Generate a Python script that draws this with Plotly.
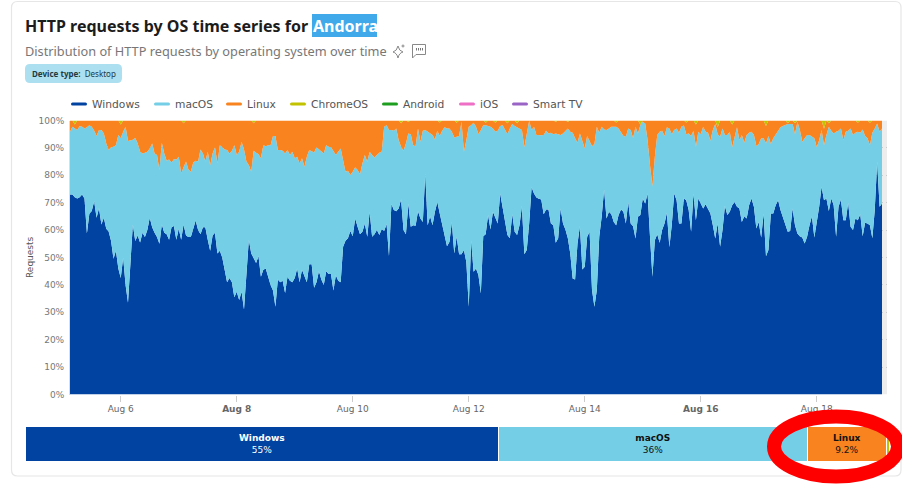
"""
HTTP requests by OS for Andorra, 100% stacked hourly areas plus share bar
"""
import pandas as pd
import plotly.graph_objects as go
from plotly.subplots import make_subplots

# ── Data ──────────────────────────────────────────────────
hours = pd.date_range("2025-08-05 03:00", periods=337, freq="1h")

windows = [
    73, 73, 72, 71.5, 72, 73, 71.5, 58.8, 66, 67,
    70.5, 64.5, 68, 62, 64.5, 60.5, 59.5, 56, 49.5, 52.5,
    46, 42.5, 50, 40, 33.5, 46, 62, 56, 58, 55.5,
    59, 57.5, 60, 64.5, 61, 59, 57.5, 55, 62, 59,
    58.5, 56.5, 61, 61.5, 56.5, 60.5, 56.5, 62, 58, 57.5,
    57.5, 60.5, 63.5, 60, 58.5, 61, 61, 56.5, 52.5, 58,
    59, 51.5, 52.5, 50, 46, 41, 42.5, 41, 35.5, 37.5,
    34.5, 37.5, 31, 43, 56.5, 51.5, 50, 48, 50.5, 43,
    45.5, 46, 43, 40, 38, 32, 42, 41, 41.5, 37,
    43, 41.5, 41, 42.5, 46, 41, 45.5, 43.5, 41, 47.5,
    47.5, 39, 41, 45, 42, 40, 45, 44, 44, 38,
    43.5, 41.5, 41, 53.9, 56.1, 57, 59.7, 57.8, 64.2, 61.2,
    58.5, 59.4, 62.4, 57.6, 66.7, 57.6, 58.5, 60, 58.2, 60.4,
    59.7, 62.2, 50.5, 69.5, 67.3, 66.9, 67.9, 71.2, 60, 58.5,
    69.5, 61.2, 61.8, 61.6, 66.9, 64.2, 63, 80.7, 61.8, 65.1,
    61.8, 66.7, 70.3, 66.1, 61.8, 58.8, 54.1, 55.7, 63, 51.5,
    57.6, 51.2, 51.2, 52.7, 48.4, 32, 56.3, 44.8, 46, 43.6,
    36.9, 57.8, 58.5, 65.5, 60.2, 66.7, 64.2, 62.4, 73.4, 68.5,
    62.4, 58.2, 57, 65.8, 59.4, 58.2, 61.8, 68.8, 51.2, 52.7,
    62.4, 75.6, 73.4, 71.9, 71.4, 71.2, 65.8, 67.5, 67.5, 62.4,
    61.8, 55.4, 57, 67.9, 62.4, 60.2, 57, 51.5, 42.3, 42,
    55.1, 61.4, 45.6, 46.6, 57.6, 59.4, 38.1, 32, 38.1, 57.6,
    64.9, 74.8, 64.2, 66.7, 65.8, 63, 61.8, 65.5, 67.5, 66.7,
    62.4, 70.3, 62.4, 61.4, 56.9, 64.9, 65.5, 71.5, 69.7, 73.4,
    57.6, 43, 56.3, 58.5, 55.4, 60, 62.4, 66.3, 53.7, 61.8,
    73.4, 70.9, 62.4, 62.4, 71.5, 70.9, 67.3, 59.4, 73.4, 63.6,
    71.5, 69.7, 67.9, 69.4, 67.9, 66.1, 61.8, 56.9, 62.4, 53.9,
    60, 68.8, 65.5, 66.7, 69.1, 70.3, 68.5, 67.9, 63, 65.1,
    64.2, 69.1, 71.5, 68.5, 60.6, 63, 57.3, 66.1, 50.5, 52.7,
    66.1, 66.1, 69.1, 70.9, 67.3, 64.9, 61.8, 59.4, 59.7, 67.9,
    61.8, 58.8, 57.8, 57.3, 55.1, 57.6, 61.8, 65.1, 57.3, 62.4,
    68.5, 75.8, 70.9, 71.5, 67, 71.5, 69.1, 57.6, 68.5, 71.2,
    63.6, 63.6, 70, 61.2, 60, 64.2, 63.6, 65.8, 57.8, 62.7,
    62.4, 61.8, 57, 67.3, 84.9, 68.5, 69.7,
]
macos = [
    22.9, 24.7, 25.1, 25, 26, 24.7, 25.6, 38.7, 32.3, 30.7,
    25.8, 29.8, 28.5, 34.5, 30.8, 31.1, 29.7, 34.2, 40.9, 38.5,
    48.7, 51, 45.9, 57.7, 59, 46.8, 31, 37.6, 33.6, 33.1,
    29, 30.7, 28.6, 25.3, 30.6, 29, 29.9, 26.9, 29.9, 29,
    26.8, 29.3, 23.7, 24.4, 29.3, 26.3, 24.2, 20.9, 27, 24.6,
    23.8, 24.2, 21.8, 25, 30.9, 27, 24, 32.1, 31.2, 30,
    31.2, 32.8, 38.5, 40.2, 43.4, 48.2, 45.5, 48, 55.5, 49.9,
    54.1, 54.7, 58.4, 42, 27.2, 29.8, 39, 40.2, 37.2, 43.2,
    45.5, 44.6, 48, 51, 56.3, 62.3, 47.2, 48.2, 47.5, 51,
    46.2, 45.9, 47.6, 43.7, 40.8, 43.3, 40.7, 39.6, 45.8, 41.7,
    41.1, 49.3, 49.2, 44.4, 46.6, 48, 46, 46.4, 46.2, 50.6,
    43.9, 47.1, 48.8, 31.6, 25.2, 24.7, 20.4, 23.5, 18.7, 20.7,
    21.9, 24.9, 25, 27.3, 21.9, 29.8, 28, 27.4, 30, 28.2,
    38, 36.1, 46, 27, 29, 30.2, 24.9, 19.2, 29, 33.1,
    25.8, 33.8, 29.2, 29, 30.2, 28, 33.3, 15.8, 34.1, 30.4,
    32.9, 26.4, 26, 28.2, 34.5, 38.7, 43, 41.4, 32.9, 42.3,
    36.5, 43.1, 48.3, 35.9, 44.4, 65.7, 42, 54.4, 51.7, 51.4,
    59.6, 40.5, 39.8, 32.5, 37.5, 30.4, 31.7, 33.9, 24.6, 29.8,
    34.1, 36.8, 40.1, 32.9, 38.6, 39.3, 35.3, 27.7, 39, 42.6,
    37.5, 20.9, 24.3, 22.8, 23.2, 23.4, 28.9, 28.8, 27.8, 33.1,
    33.2, 39.9, 38, 26.8, 32.9, 36.1, 40.1, 44.4, 53.2, 51.5,
    36.8, 33.9, 46.6, 43.2, 36.7, 32.8, 52.5, 59.4, 59.6, 37.9,
    32.8, 21.9, 32.3, 30.4, 31.9, 34.7, 35.9, 31.6, 28.4, 27.6,
    31.7, 26.8, 34.1, 32.1, 40.8, 30.4, 32.8, 28, 29.2, 19.4,
    26.1, 33, 30.5, 36.2, 40.5, 36.3, 31.9, 31.2, 43.4, 33.2,
    23.1, 26.2, 33.1, 35.3, 26.8, 24.1, 28, 34.9, 22.9, 26.8,
    24.4, 25.3, 29.8, 26.5, 27.6, 26.5, 34.7, 41.8, 32.6, 40.2,
    37.1, 25.9, 29.2, 29.2, 21.1, 24, 29, 24.9, 31.7, 26.8,
    30.5, 26.4, 24.4, 26.2, 30.1, 28.4, 36.2, 27.4, 41.1, 41.6,
    25.3, 27.4, 25.6, 25, 30.2, 33.1, 36.5, 39.3, 39, 30.8,
    33.2, 40.7, 38.7, 34.9, 38.4, 37.1, 32.9, 29, 36.2, 27.8,
    24.3, 20.7, 20.1, 23.2, 30.7, 24.8, 26.2, 38.3, 27.8, 25.9,
    29.2, 32.3, 26.3, 35.9, 34.7, 31.3, 32.3, 29.7, 38.9, 31.6,
    31.1, 29.2, 38.5, 29.8, 14, 27.4, 27.4,
]
linux = [
    4.1, 2.3, 1.4, 3.5, 2, 2.3, 2.9, 2.5, 1.7, 2.3,
    3.7, 5.7, 3.5, 3.5, 4.7, 8.4, 10.8, 9.8, 9.6, 9,
    5.3, 5, 4.1, 2.3, 7.5, 7.2, 7, 6.4, 8.4, 11.4,
    12, 11.8, 11.4, 10.2, 8.4, 12, 12.6, 18.1, 8.1, 12,
    14.7, 14.2, 15.3, 14.1, 14.2, 13.2, 19.3, 16.1, 15, 17.9,
    18.7, 15.3, 14.7, 15, 10.6, 12, 15, 11.4, 16.3, 12,
    9.8, 15.7, 9, 9.8, 10.6, 10.8, 12, 11, 9, 12.6,
    11.4, 7.8, 10.6, 15, 16.3, 18.7, 10, 11.8, 12.3, 13.8,
    9, 9.4, 9, 9, 5.7, 5.7, 10.8, 10.8, 11, 12,
    10.8, 12.6, 11.4, 13.8, 13.2, 15.7, 13.8, 16.9, 13.2, 10.8,
    11.4, 11.7, 9.8, 10.6, 11.4, 12, 9, 9.6, 9.8, 11.4,
    12.6, 11.4, 10.2, 14.5, 18.7, 18.3, 19.9, 18.7, 17.1, 18.1,
    19.6, 15.7, 12.6, 15.1, 11.4, 12.6, 13.5, 12.6, 11.8, 11.4,
    2.3, 1.7, 3.5, 3.5, 3.7, 2.9, 7.2, 8.6, 11, 8.4,
    4.2, 5, 9, 9.4, 2.9, 7.8, 3.7, 3.5, 4.1, 4.5,
    5.3, 6.9, 3.7, 5, 3.7, 2.5, 2.9, 2.9, 4.1, 6.2,
    5.1, 5.7, 0.5, 11.4, 7.2, 2.3, 1.7, 0.8, 2.3, 5,
    3.5, 1.7, 0.9, 2, 2.3, 2.9, 3.3, 3.7, 2, 1.7,
    3.5, 4, 2.9, 1.3, 2, 1.5, 2.9, 3.5, 9.8, 4.7,
    0.1, 3.5, 2.3, 5.3, 5.4, 5.4, 5.3, 3.7, 4.7, 4.5,
    5, 4.2, 5, 5.3, 4.7, 3.7, 2.4, 4.1, 4.5, 6.5,
    8.1, 4.7, 7.8, 10.2, 5.7, 7.8, 9.4, 8.6, 2.3, 4.5,
    2.3, 3.3, 3.5, 2.9, 2.3, 2.3, 1.6, 2.9, 4.1, 5.7,
    5.9, 2.9, 3.5, 6.5, 2.3, 4.7, 0.2, 0.5, 1.1, 7.2,
    16.3, 24, 13.2, 5.3, 4.1, 3.7, 5.7, 2.5, 2.9, 5,
    3.5, 2.9, 4.5, 2.3, 1.7, 4.3, 4.7, 5.7, 3.7, 8.1,
    4.1, 5, 2.3, 4.1, 4.5, 7.4, 3.5, 1.3, 2.5, 5.9,
    2.9, 5.3, 5.3, 4.1, 8.3, 5.7, 2.5, 7.2, 5.3, 8.1,
    5.3, 4.5, 4.1, 5.3, 9.3, 8.6, 6.5, 6.5, 6.4, 5.7,
    8.6, 6.5, 5.3, 4.1, 2.5, 2, 1.7, 0.3, 1.3, 1.3,
    4, 0.5, 3.5, 7.8, 6.5, 5.3, 5.3, 5.9, 6.5, 9.8,
    7.2, 3.5, 6, 5.3, 1.3, 3.7, 4.7, 4.1, 3.7, 2.9,
    7.2, 4.1, 3.7, 2.9, 5.3, 4.5, 3.3, 4.5, 3.3, 5.7,
    6.5, 8.2, 4.5, 2.9, 1.1, 4.1, 2.9,
]
chromeos = [
    0, 0, 1.5, 0, 0, 0, 0, 0, 0, 0,
    0, 0, 0, 0, 0, 0, 0, 0, 0, 0,
    0, 1.5, 0, 0, 0, 0, 0, 0, 0, 0,
    0, 0, 0, 0, 0, 0, 0, 0, 0, 0,
    0, 0, 0, 0, 0, 0, 0, 1, 0, 0,
    0, 0, 0, 0, 0, 0, 0, 0, 0, 0,
    0, 0, 0, 0, 0, 0, 0, 0, 0, 0,
    0, 0, 0, 0, 0, 0, 1, 0, 0, 0,
    0, 0, 0, 0, 0, 0, 0, 0, 0, 0,
    0, 0, 0, 0, 0, 0, 0, 0, 0, 0,
    0, 0, 0, 0, 0, 0, 0, 0, 0, 0,
    0, 0, 0, 0, 0, 0, 0, 0, 0, 0,
    0, 0, 0, 0, 0, 0, 0, 0, 0, 0,
    0, 0, 0, 0, 0, 0, 0, 1, 0, 0,
    0.5, 0, 0, 0, 0, 0, 0, 0, 0, 0,
    0, 0, 0, 0.7, 0, 0, 0, 0, 0, 0,
    0.8, 0, 0, 0, 0, 0, 0, 0, 0, 0,
    0, 0, 0.8, 0, 0, 0, 0.8, 0, 0, 0,
    0, 1, 0, 0, 0, 1, 0, 0, 0, 0,
    0, 0, 0, 0, 0, 0, 0, 0, 0, 0,
    0, 0.5, 0, 0, 0, 0, 0.5, 0, 0, 0,
    0, 0, 0, 0, 0, 0, 0, 0, 0, 0,
    0, 0, 0, 0, 0, 0, 0.7, 0, 0, 0,
    0, 0, 0, 0, 0, 0, 1.5, 0, 0, 0,
    0, 0, 0, 0, 0, 0, 0, 0, 0, 0,
    0, 0, 0, 0, 0, 0.7, 0, 0, 0, 1.5,
    0, 0, 0, 0, 0, 0, 0, 0, 2.5, 0,
    0, 0, 0, 0, 1.5, 0, 0, 0, 0, 0,
    0, 0, 0, 0, 0, 0, 0, 0, 2, 0,
    0, 0, 0, 0, 0, 0, 0, 1, 0, 0,
    1, 0, 0, 0, 0, 0, 0, 0, 0, 0,
    0, 0, 3, 0, 1, 0, 0, 0, 0, 0,
    0, 0, 0, 0, 0, 0, 0.8, 0, 0, 0,
    0, 0.8, 0, 0, 0, 0, 0,
]

legend_names = ["Windows", "macOS", "Linux", "ChromeOS", "Android", "iOS", "Smart TV"]
y_ticks = [0, 10, 20, 30, 40, 50, 60, 70, 80, 90, 100]
x_ticks = ["2025-08-06", "2025-08-08", "2025-08-10", "2025-08-12", "2025-08-14", "2025-08-16", "2025-08-18"]
x_labels = ["Aug 6", "<b>Aug 8</b>", "Aug 10", "Aug 12", "Aug 14", "<b>Aug 16</b>", "Aug 18"]

share_names = ["Windows", "macOS", "Linux", "ChromeOS"]
share_values = [55, 36, 9.2, 0.3]
share_labels = ["<b>Windows</b><br>55%", "<b>macOS</b><br>36%", "<b>Linux</b><br>9.2%", ""]

# ── Styling ───────────────────────────────────────────────
W, H = 902, 485
colors = {
    "Windows": "#0043a1",
    "macOS": "#73cee6",
    "Linux": "#f8831f",
    "ChromeOS": "#c2c200",
    "Android": "#1e9e1e",
    "iOS": "#ee6fc5",
    "Smart TV": "#9a64c6",
}
share_text = ["#ffffff", "#111111", "#111111", "#111111"]
SANS = "Noto Sans"
AXIS = "DejaVu Sans"


def px(x):
    return x / W


def py(y):
    return 1 - y / H


def pt(x, y):
    return f"{px(x):.5f},{py(y):.5f}"


def rounded(x0, y0, x1, y1, r):
    return (
        f"M{pt(x0 + r, y0)} L{pt(x1 - r, y0)} Q{pt(x1, y0)} {pt(x1, y0 + r)} "
        f"L{pt(x1, y1 - r)} Q{pt(x1, y1)} {pt(x1 - r, y1)} "
        f"L{pt(x0 + r, y1)} Q{pt(x0, y1)} {pt(x0, y1 - r)} "
        f"L{pt(x0, y0 + r)} Q{pt(x0, y0)} {pt(x0 + r, y0)} Z"
    )


def text_at(x, y, text, size, color, family=SANS, anchor="left", **kw):
    # annotations carry 2px of padding around their text
    shift = -2 if anchor == "left" else 0
    return dict(
        x=px(x + shift), y=py(y), xref="paper", yref="paper", text=text, showarrow=False,
        xanchor=anchor, yanchor="middle",
        font=dict(family=family, size=size, color=color), **kw,
    )


# ── Build chart ───────────────────────────────────────────
fig = make_subplots(rows=2, cols=1)

for name, values in [("Windows", windows), ("macOS", macos), ("Linux", linux), ("ChromeOS", chromeos)]:
    fig.add_trace(
        go.Scatter(
            x=hours, y=values, name=name, mode="lines", stackgroup="one",
            line=dict(width=0, color=colors[name]), fillcolor=colors[name],
            hoverinfo="skip", showlegend=False,
        ),
        row=1, col=1,
    )

for name, value, label, tc in zip(share_names, share_values, share_labels, share_text):
    fig.add_trace(
        go.Bar(
            x=[value], y=["share"], name=name, orientation="h",
            marker=dict(color=colors[name], line=dict(color="#ffffff", width=1.5)),
            text=[label], textposition="inside", insidetextanchor="middle",
            textangle=0, constraintext="none",
            textfont=dict(family=AXIS, size=9, color=tc),
            hoverinfo="skip", showlegend=False,
        ),
        row=2, col=1,
    )

# ── Layout ────────────────────────────────────────────────
shapes = [
    # card
    dict(type="path", xref="paper", yref="paper", path=rounded(11.5, 1.5, 901, 476, 6),
         line=dict(color="#e6e6e6", width=1.2), fillcolor="rgba(0,0,0,0)", layer="below"),
    # highlighted country
    dict(type="rect", xref="paper", yref="paper", x0=px(312), x1=px(377), y0=py(37), y1=py(14),
         line_width=0, fillcolor="#3fa9ea", layer="below"),
    # device badge
    dict(type="path", xref="paper", yref="paper", path=rounded(25, 64, 122, 83, 5),
         line_width=0, fillcolor="#acdfef", layer="below"),
    # sparkle icon
    dict(type="path", xref="paper", yref="paper",
         path=f"M{pt(398, 46)} Q{pt(399, 51)} {pt(403, 52)} Q{pt(399, 53)} {pt(398, 58)} "
              f"Q{pt(397, 53)} {pt(393, 52)} Q{pt(397, 51)} {pt(398, 46)} Z",
         line=dict(color="#888888", width=1), fillcolor="rgba(0,0,0,0)"),
    dict(type="path", xref="paper", yref="paper",
         path=f"M{pt(403, 44.5)} L{pt(403, 47.5)} M{pt(401.5, 46)} L{pt(404.5, 46)}",
         line=dict(color="#888888", width=1)),
    # quote icon
    dict(type="path", xref="paper", yref="paper",
         path=f"M{pt(412.5, 44.5)} L{pt(425.5, 44.5)} L{pt(425.5, 54.5)} L{pt(416, 54.5)} "
              f"L{pt(412.5, 58)} Z",
         line=dict(color="#888888", width=1), fillcolor="rgba(0,0,0,0)"),
    dict(type="path", xref="paper", yref="paper",
         path=f"M{pt(416.5, 48)} L{pt(416.5, 50.5)} M{pt(418.5, 48)} L{pt(418.5, 50.5)} "
              f"M{pt(420.5, 48)} L{pt(420.5, 50.5)} M{pt(422.5, 48)} L{pt(422.5, 50.5)}",
         line=dict(color="#777777", width=1)),
    # incomplete period hatch
    dict(type="rect", xref="x", yref="y", x0=hours[-1], x1="2025-08-19 05:04", y0=0, y1=100,
         line_width=0, fillcolor="#ededed", layer="below"),
    # red ring drawn over the chart
    dict(type="circle", xref="paper", yref="paper", x0=px(774), x1=px(898), y0=py(476.5), y1=py(416.5),
         line=dict(color="#fe0000", width=14), fillcolor="rgba(0,0,0,0)"),
]

annotations = [
    text_at(25, 26, "<b>HTTP requests by OS time series for</b>", 16, "#1c1c1c"),
    text_at(312.5, 26, "<b>Andorra</b>", 16, "#ffffff"),
    text_at(25, 51.5, "Distribution of HTTP requests by operating system over time", 12.75, "#777777"),
    text_at(31.5, 73.5, "<b>Device type:</b>  Desktop", 8, "#1d3a45"),
    text_at(30, 257, "Requests", 9, "#555555", family=AXIS, anchor="center", textangle=-90),
]

legend_x = [71, 154, 226, 290, 382, 459, 512]
for name, lx in zip(legend_names, legend_x):
    shapes.append(dict(type="path", xref="paper", yref="paper", path=rounded(lx, 102.5, lx + 16, 105.5, 1.5),
                       line_width=0, fillcolor=colors[name]))
    annotations.append(text_at(lx + 21, 104, name, 10.7, "#555555", family=AXIS))

fig.update_layout(
    width=W, height=H, autosize=False,
    margin=dict(l=0, r=0, t=0, b=0, pad=0),
    paper_bgcolor="#ffffff", plot_bgcolor="rgba(0,0,0,0)",
    barmode="stack", barcornerradius=2, bargap=0,
    showlegend=False, shapes=shapes, annotations=annotations,
)

fig.update_xaxes(
    domain=[px(70), px(887)], range=[hours[0], "2025-08-19 05:04"], type="date",
    tickmode="array", tickvals=x_ticks, ticktext=x_labels, automargin=False,
    ticks="outside", ticklen=6, tickcolor="#cccccc", tickwidth=1,
    tickfont=dict(family=AXIS, size=9, color="#666666"),
    showgrid=False, zeroline=False, showline=False,
    row=1, col=1,
)
fig.update_yaxes(
    domain=[py(394.5), py(120.5)], range=[0, 100], fixedrange=True, automargin=False,
    tickmode="array", tickvals=y_ticks, ticktext=[f"{v}%" for v in y_ticks],
    ticks="", ticklabelstandoff=3, tickfont=dict(family=AXIS, size=9, color="#777777"),
    showgrid=True, gridcolor="#cccccc", griddash="dot", gridwidth=1,
    zeroline=False, showline=True, linecolor="#dddddd", linewidth=1,
    row=1, col=1,
)
fig.update_xaxes(
    domain=[px(26), px(890)], range=[0, sum(share_values)], visible=False, automargin=False, row=2, col=1,
)
fig.update_yaxes(
    domain=[py(462), py(427)], visible=False, automargin=False, row=2, col=1,
)

fig.write_html(
    "out.html",
    config=dict(displayModeBar=False),
    post_script="document.body.style.margin='0';document.documentElement.style.overflow='hidden';",
)
